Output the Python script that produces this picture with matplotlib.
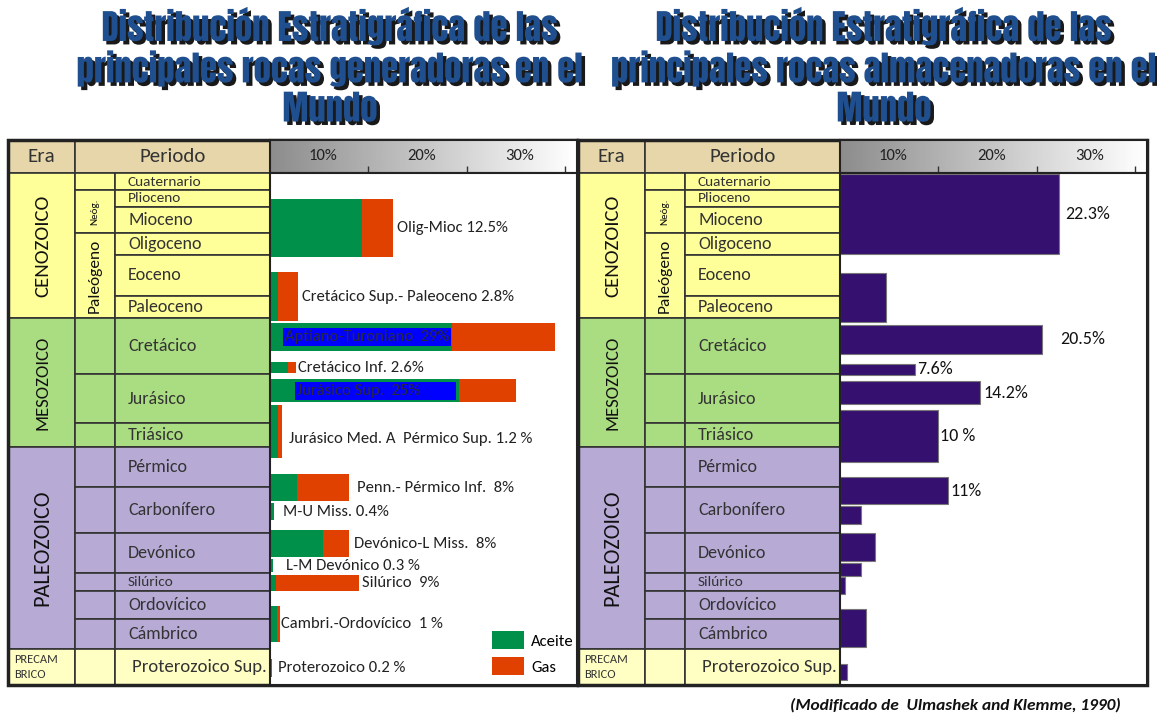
import numpy as np
import matplotlib.pyplot as plt
import matplotlib.patheffects as pe
from matplotlib.patches import Rectangle, Patch

plt.rcParams['font.family'] = ['Carlito', 'Lato', 'DejaVu Sans']

# escala de tiempo
periodos = ['Cuaternario', 'Plioceno', 'Mioceno', 'Oligoceno', 'Eoceno', 'Paleoceno',
            'Cretácico', 'Jurásico', 'Triásico', 'Pérmico', 'Carbonífero', 'Devónico',
            'Silúrico', 'Ordovícico', 'Cámbrico', 'Proterozoico Sup.']
eras = ['CENOZOICO', 'MESOZOICO', 'PALEOZOICO', 'PRECAM\nBRICO']
subperiodos = ['', 'Neóg.', 'Paleógeno']

# rocas generadoras (%): aceite + gas
gen_etiquetas = ['Olig-Mioc 12.5%', 'Cretácico Sup.- Paleoceno 2.8%', 'Aptiano-Turoniano  29%',
                 'Cretácico Inf. 2.6%', 'Jurásico Sup.  25%', 'Jurásico Med. A  Pérmico Sup. 1.2 %',
                 'Penn.- Pérmico Inf.  8%', 'M-U Miss. 0.4%', 'Devónico-L Miss.  8%',
                 'L-M Devónico 0.3 %', 'Silúrico  9%', 'Cambri.-Ordovícico  1 %', 'Proterozoico 0.2 %']
gen_aceite = [9.4, 0.8, 18.5, 1.8, 19.2, 0.8, 2.7, 0.4, 5.4, 0.3, 0.6, 0.7, 0.0]
gen_gas = [3.1, 2.0, 10.5, 0.8, 5.8, 0.4, 5.3, 0.0, 2.6, 0.0, 8.4, 0.3, 0.2]

# rocas almacenadoras (%)
alm_valores = [22.3, 4.7, 20.5, 7.6, 14.2, 10, 11, 2.1, 3.6, 2.1, 0.5, 2.6, 0.7]
alm_etiquetas = ['22.3%', '', '20.5%', '7.6%', '14.2%', '10 %', '11%', '', '', '', '', '', '']

marcas = [10, 20, 30]

titulos = ['Distribución Estratigráfica de las\nprincipales rocas generadoras en el\nMundo',
           'Distribución Estratigráfica de las\nprincipales rocas almacenadoras en el\nMundo']

# ---------------- layout (px) ----------------
W, H = 1157, 714
filas = [173, 190, 207, 233, 255, 296, 318, 374, 423, 447, 487, 533, 573, 591, 619, 649, 685]
era_filas = [(0, 6), (6, 9), (9, 15), (15, 16)]
era_colores = ['#FFFF99', '#AADC82', '#B7ABD6', '#FFFFC4']
era_fs = [15, 13.5, 16, 9]
sub_filas = [(0, 1), (1, 3), (3, 6)] + [(i, i + 1) for i in range(6, 16)]
per_fs = [11, 11, 13, 13, 13, 13, 13, 13, 13, 13, 13, 13, 11, 13, 13, 13.5]
cols = [0, 67, 107, 262, 569]
paneles = [8, 578]
tope, enc = 140, 173
xmax_gen, xmax_alm = 31.2, 31.2

gen_y = [(199, 257), (272, 321), (323, 351), (362, 373), (379, 402), (405, 458),
         (474, 501), (503, 520), (530, 557), (559, 572), (575, 591), (606, 642), (659, 677)]
gen_dx = [4, 4, 15, 2, 27, 7, 8, 9, 5, 13, 3, 1, 6]
gen_dy = [0, 0, 0, 0, 0, -7, 0, 0, 0, 0, 0, 0, 0]
gen_relleno = ['', '', '', '', '         ', '', '', '', '', '', '', '', '']
gen_dentro = [False, False, True, False, True, False, False, False, False, False, False, False, False]

alm_y = [(174, 254), (273, 322), (325, 354), (364, 375), (381, 404), (410, 462), (477, 504),
         (506, 524), (533, 561), (563, 576), (577, 594), (609, 647), (664, 680)]
alm_dx = [6, 0, 18, 2, 4, 2, 2, 0, 0, 0, 0, 0, 0]

VERDE, NARANJA, MORADO = '#00904A', '#E04000', '#35106E'
LINEA = '#333333'


def era_de(i):
    for k, (a, b) in enumerate(era_filas):
        if a <= i < b:
            return k


fig = plt.figure(figsize=(W / 100, H / 100), dpi=100)
base = fig.add_axes([0, 0, 1, 1])
base.set_xlim(0, W)
base.set_ylim(H, 0)
base.axis('off')


def tabla(x0):
    c = [x0 + v for v in cols]
    # encabezado
    base.add_patch(Rectangle((c[0], tope), c[1] - c[0], enc - tope, fc='#E6D6A9', ec=LINEA, lw=1.2))
    base.add_patch(Rectangle((c[1], tope), c[3] - c[1], enc - tope, fc='#E6D6A9', ec=LINEA, lw=1.2))
    base.text((c[0] + c[1]) / 2, (tope + enc) / 2, 'Era', ha='center', va='center', fontsize=15, color='#333')
    base.text((c[1] + c[3]) / 2, (tope + enc) / 2, 'Periodo', ha='center', va='center', fontsize=15, color='#333')

    # eras
    for k, (a, b) in enumerate(era_filas):
        y0, y1 = filas[a], filas[b]
        base.add_patch(Rectangle((c[0], y0), c[1] - c[0], y1 - y0, fc=era_colores[k], ec=LINEA, lw=1.2))
        if k < 3:
            base.text((c[0] + c[1]) / 2 + 1, (y0 + y1) / 2, eras[k], rotation=90, ha='center', va='center',
                      fontsize=era_fs[k], color='#111')
        else:
            base.text(c[0] + 6, (y0 + y1) / 2, eras[k], ha='left', va='center', fontsize=era_fs[k],
                      color='#333', linespacing=1.5)

    # subdivisiones (Neógeno / Paleógeno)
    for k, (a, b) in enumerate(sub_filas):
        y0, y1 = filas[a], filas[b]
        base.add_patch(Rectangle((c[1], y0), c[2] - c[1], y1 - y0, fc=era_colores[era_de(a)], ec=LINEA, lw=1.2))
        if k in (1, 2):
            base.text((c[1] + c[2]) / 2, (y0 + y1) / 2, subperiodos[k], rotation=90, ha='center',
                      va='center', fontsize=8 if k == 1 else 12.5, color='#111')

    # periodos
    for i, nombre in enumerate(periodos):
        y0, y1 = filas[i], filas[i + 1]
        base.add_patch(Rectangle((c[2], y0), c[3] - c[2], y1 - y0, fc=era_colores[era_de(i)], ec=LINEA, lw=1.2))
        dx = 17 if i == len(periodos) - 1 else 13
        base.text(c[2] + dx, (y0 + y1) / 2, nombre, ha='left', va='center', fontsize=per_fs[i], color='#333')

    # marco exterior
    base.add_patch(Rectangle((c[0], tope), c[4] - c[0], filas[-1] - tope, fc='none', ec='#222', lw=2.5, zorder=5))


def encabezado(x0, xmax):
    c = [x0 + v for v in cols]
    ax = fig.add_axes([c[3] / W, 1 - enc / H, (c[4] - c[3]) / W, (enc - tope) / H])
    grad = np.linspace(0.55, 1.0, 256).reshape(1, -1)
    ax.imshow(grad, cmap='gray', vmin=0, vmax=1, aspect='auto', extent=(0, xmax, 0, 1))
    ax.set_xlim(0, xmax)
    ax.set_ylim(0, 1)
    ax.set_xticks(marcas)
    ax.set_xticklabels([])
    ax.set_yticks([])
    ax.tick_params(axis='x', direction='in', length=5, width=1, color='#333')
    for m in marcas:
        ax.text(m - 4.6, 0.5, f'{m}%', ha='center', va='center', fontsize=12, color='#222')
    for s in ax.spines.values():
        s.set_color('#222')
        s.set_linewidth(1.5)


def grafica(x0, xmax):
    c = [x0 + v for v in cols]
    ax = fig.add_axes([c[3] / W, 1 - filas[-1] / H, (c[4] - c[3]) / W, (filas[-1] - enc) / H])
    ax.set_xlim(0, xmax)
    ax.set_ylim(filas[-1], enc)
    ax.set_xticks([])
    ax.set_yticks([])
    for s in ax.spines.values():
        s.set_color('#222')
        s.set_linewidth(1.5)
    return ax


# ---------------- panel izquierdo: generadoras ----------------
tabla(paneles[0])
encabezado(paneles[0], xmax_gen)
ax1 = grafica(paneles[0], xmax_gen)

yc = [(a + b) / 2 for a, b in gen_y]
alto = [b - a for a, b in gen_y]
total = [a + g for a, g in zip(gen_aceite, gen_gas)]
ax1.barh(yc, gen_aceite, height=alto, color=VERDE, lw=0)
ax1.barh(yc, gen_gas, left=gen_aceite, height=alto, color=NARANJA, lw=0)

for i, txt in enumerate(gen_etiquetas):
    if gen_dentro[i]:
        ax1.annotate(txt + gen_relleno[i], xy=(0, yc[i]), xytext=(gen_dx[i], gen_dy[i]),
                     textcoords='offset pixels', ha='left', va='center', fontsize=12, color='#2A2A3A',
                     bbox=dict(boxstyle='square,pad=0.12', fc='#0000FF', ec='none'))
    else:
        ax1.annotate(txt, xy=(total[i], yc[i]), xytext=(gen_dx[i], gen_dy[i]), textcoords='offset pixels',
                     ha='left', va='center', fontsize=12, color='#222')

ax1.legend([Patch(fc=VERDE), Patch(fc=NARANJA)], ['Aceite', 'Gas'], loc='lower left',
           bbox_to_anchor=(0.723, 0.0195), frameon=False, fontsize=12, handlelength=1.9,
           handleheight=1.3, labelspacing=0.45, handletextpad=0.45, borderpad=0, borderaxespad=0)

# ---------------- panel derecho: almacenadoras ----------------
tabla(paneles[1])
encabezado(paneles[1], xmax_alm)
ax2 = grafica(paneles[1], xmax_alm)

yc2 = [(a + b) / 2 for a, b in alm_y]
alto2 = [b - a for a, b in alm_y]
ax2.barh(yc2, alm_valores, height=alto2, color=MORADO, edgecolor='#777', lw=0.8)
for i, txt in enumerate(alm_etiquetas):
    if txt:
        ax2.annotate(txt, xy=(alm_valores[i], yc2[i]), xytext=(alm_dx[i], 0), textcoords='offset pixels',
                     ha='left', va='center', fontsize=13, color='#111')

# ---------------- titulos ----------------
sombra = [pe.SimplePatchShadow(offset=(2.5, -2.5), shadow_rgbFace='black', alpha=0.9), pe.Normal()]
for x, t in zip([330, 884], titulos):
    fig.text(x / W, 1 - 66 / H, t, ha='center', va='center', fontsize=25,
             family=['Anton', 'DejaVu Sans'], color='#1F4F8F', linespacing=1.17,
             path_effects=sombra)

fig.text(1121 / W, 1 - 705 / H, '(Modificado de  Ulmashek and Klemme, 1990)', ha='right', va='center',
         fontsize=12.5, fontweight='bold', style='italic', color='#111')

fig.savefig('out.png', dpi=100)
